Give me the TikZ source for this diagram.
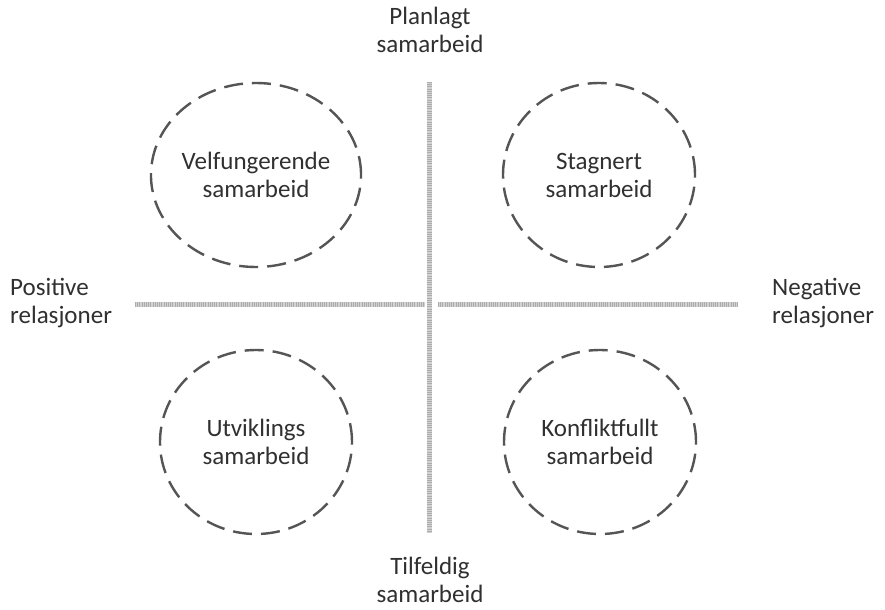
\documentclass[tikz,border=0pt]{standalone}
\usepackage{fontspec}
\setmainfont{Carlito}
\usetikzlibrary{shapes.geometric}
\definecolor{txtgray}{HTML}{303030}
\definecolor{ringgray}{HTML}{555555}
\tikzset{
  ring/.style={ellipse, draw=ringgray, line width=2.4bp, dash pattern=on 19bp off 9bp,
    minimum width=192bp, minimum height=184bp, align=center, inner sep=0pt},
  axislabel/.style={align=center, inner sep=0pt},
  axisline/.style={gray!35, line width=5bp},
  axistex/.style={gray!65, line width=5bp, dash pattern=on 0.8bp off 1.4bp}
}
\begin{document}
\begin{tikzpicture}[x=1bp,y=-1bp, every node/.style={font=\fontsize{25bp}{28bp}\selectfont, text=txtgray}]
\useasboundingbox[fill=white] (0,0) rectangle (885,610);
% axes
\coordinate (top) at (429,82);
\coordinate (bot) at (429,533);
\coordinate (left) at (135,304);
\coordinate (lgap) at (425,304);
\coordinate (rgap) at (438,304);
\coordinate (right) at (738,304);
\foreach \a/\b in {top/bot, left/lgap, rgap/right} {
  \draw[axisline] (\a) -- (\b);
  \draw[axistex] (\a) -- (\b);
}
% quadrants
\node[ring] (velf) at (256,175) {Velfungerende\\samarbeid};
\node[ring] (stag) at (599,175) {Stagnert\\samarbeid};
\node[ring] (utv) at (256,442) {Utviklings\\samarbeid};
\node[ring] (konf) at (600,442) {Konfliktfullt\\samarbeid};
% axis labels
\node[axislabel] (plan) at (430,30) {Planlagt\\samarbeid};
\node[axislabel] (tilf) at (430,580) {Tilfeldig\\samarbeid};
\node[axislabel, align=left, anchor=west] (pos) at (10,303) {Positive\\relasjoner};
\node[axislabel, align=left, anchor=west] (neg) at (772,303) {Negative\\relasjoner};
\end{tikzpicture}
\end{document}
